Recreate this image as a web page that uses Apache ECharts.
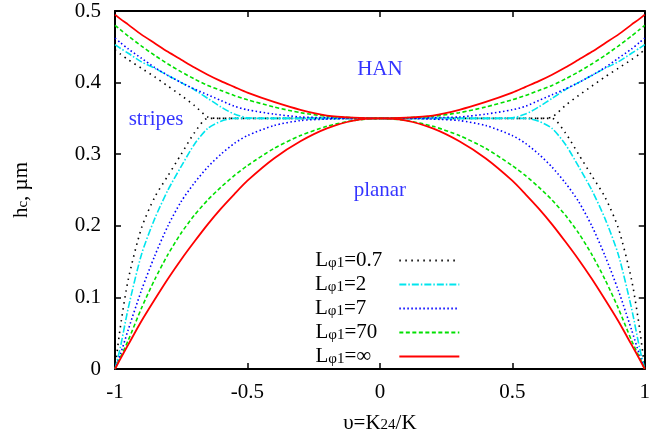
<!DOCTYPE html>
<html>
<head>
<meta charset="utf-8">
<script src="https://cdn.jsdelivr.net/npm/echarts@6/dist/echarts.min.js"></script>
<style>
  html, body { margin: 0; padding: 0; background: #fff; }
  #chart { width: 653px; height: 445px; }
</style>
</head>
<body>
<div id="chart"></div>
<script>
// абсцисса v = K24/K
var v = [-1, -0.98, -0.95, -0.9, -0.85, -0.8, -0.75, -0.7, -0.65, -0.6, -0.55, -0.5, -0.4, -0.3, -0.2, -0.1, 0,
         0.1, 0.2, 0.3, 0.4, 0.5, 0.55, 0.6, 0.65, 0.7, 0.75, 0.8, 0.85, 0.9, 0.95, 0.98, 1];

// L = 0.7
var blackUp = [0.446, 0.44, 0.432, 0.42, 0.408, 0.395, 0.382, 0.368, 0.352, 0.35, 0.35, 0.35, 0.35, 0.35, 0.35, 0.35, 0.35,
               0.35, 0.35, 0.35, 0.35, 0.35, 0.35, 0.35, 0.352, 0.368, 0.382, 0.395, 0.408, 0.42, 0.432, 0.44, 0.446];
var blackLow = [0, 0.058, 0.125, 0.197, 0.24, 0.27, 0.3, 0.33, 0.35, 0.35, 0.35, 0.35, 0.35, 0.35, 0.35, 0.35, 0.35,
                0.35, 0.35, 0.35, 0.35, 0.35, 0.35, 0.35, 0.35, 0.33, 0.3, 0.27, 0.24, 0.197, 0.125, 0.058, 0];
// L = 2
var cyanUp = [0.453, 0.448, 0.441, 0.429, 0.42, 0.41, 0.4, 0.39, 0.378, 0.366, 0.356, 0.351, 0.35, 0.35, 0.35, 0.35, 0.35,
              0.35, 0.35, 0.35, 0.35, 0.351, 0.356, 0.366, 0.378, 0.39, 0.4, 0.41, 0.42, 0.429, 0.441, 0.448, 0.453];
var cyanLow = [0, 0.03, 0.085, 0.16, 0.21, 0.25, 0.283, 0.314, 0.336, 0.346, 0.35, 0.35, 0.35, 0.35, 0.35, 0.35, 0.35,
               0.35, 0.35, 0.35, 0.35, 0.35, 0.35, 0.346, 0.336, 0.314, 0.283, 0.25, 0.21, 0.16, 0.085, 0.03, 0];
// L = 7
var blueUp = [0.462, 0.456, 0.447, 0.434, 0.421, 0.41, 0.4, 0.391, 0.383, 0.375, 0.367, 0.362, 0.356, 0.352, 0.351, 0.35, 0.35,
              0.35, 0.351, 0.352, 0.356, 0.362, 0.367, 0.375, 0.383, 0.391, 0.4, 0.41, 0.421, 0.434, 0.447, 0.456, 0.462];
var blueLow = [0, 0.02, 0.055, 0.11, 0.158, 0.2, 0.234, 0.26, 0.282, 0.3, 0.315, 0.326, 0.34, 0.347, 0.349, 0.35, 0.35,
               0.35, 0.349, 0.347, 0.34, 0.326, 0.315, 0.3, 0.282, 0.26, 0.234, 0.2, 0.158, 0.11, 0.055, 0.02, 0];
// L = 70
var greenUp = [0.48, 0.474, 0.465, 0.451, 0.438, 0.426, 0.415, 0.405, 0.396, 0.389, 0.382, 0.376, 0.366, 0.358, 0.353, 0.351, 0.35,
               0.351, 0.353, 0.358, 0.366, 0.376, 0.382, 0.389, 0.396, 0.405, 0.415, 0.426, 0.438, 0.451, 0.465, 0.474, 0.48];
var greenLow = [0, 0.016, 0.04, 0.085, 0.125, 0.16, 0.19, 0.215, 0.236, 0.254, 0.27, 0.284, 0.308, 0.326, 0.339, 0.347, 0.35,
                0.347, 0.339, 0.326, 0.308, 0.284, 0.27, 0.254, 0.236, 0.215, 0.19, 0.16, 0.125, 0.085, 0.04, 0.016, 0];
// L = inf
var redUp = [0.495, 0.489, 0.481, 0.467, 0.455, 0.443, 0.432, 0.421, 0.411, 0.402, 0.394, 0.386, 0.373, 0.362, 0.354, 0.351, 0.35,
             0.351, 0.354, 0.362, 0.373, 0.386, 0.394, 0.402, 0.411, 0.421, 0.432, 0.443, 0.455, 0.467, 0.481, 0.489, 0.495];
var redLow = [0, 0.014, 0.034, 0.067, 0.097, 0.126, 0.153, 0.178, 0.202, 0.224, 0.244, 0.263, 0.294, 0.318, 0.336, 0.347, 0.35,
              0.347, 0.336, 0.318, 0.294, 0.263, 0.244, 0.224, 0.202, 0.178, 0.153, 0.126, 0.097, 0.067, 0.034, 0.014, 0];

var names = ['0.7', '2', '7', '70', '∞'];
var regionLabels = [['HAN', 0, 0.419], ['stripes', -0.845, 0.348], ['planar', 0, 0.249]];

var font = 'Liberation Serif';

function pts(arr) {
    return v.map(function (x, i) { return [x, arr[i]] })
}

// кривые: верхняя и нижняя ветви с одним именем
var curves = [
    { name: names[0], up: blackUp, low: blackLow, color: '#000000', type: [1.5, 4.5], width: 1.6 },
    { name: names[1], up: cyanUp, low: cyanLow, color: '#00e5ee', type: [7, 2, 1.5, 2], width: 1.6 },
    { name: names[2], up: blueUp, low: blueLow, color: '#0000ff', type: [1.5, 2.5], width: 1.6 },
    { name: names[3], up: greenUp, low: greenLow, color: '#00e000', type: [4, 2.5], width: 1.6 },
    { name: names[4], up: redUp, low: redLow, color: '#ff0000', type: 'solid', width: 1.8 }
]

var series = []
curves.forEach(function (c) {
    [c.up, c.low].forEach(function (arr) {
        series.push({
            name: c.name,
            type: 'line',
            data: pts(arr),
            symbol: 'none',
            smooth: 0.25,
            color: c.color,
            lineStyle: { color: c.color, width: c.width, type: c.type },
            animation: false
        })
    })
})

series.push({
    type: 'scatter',
    symbolSize: 0,
    data: regionLabels.map(function (r) { return { value: [r[1], r[2]], name: r[0] } }),
    label: {
        show: true,
        position: 'inside',
        formatter: '{b}',
        color: '#0000ff',
        fontSize: 21,
        fontFamily: font
    },
    silent: true,
    animation: false
})

// ширина текста, чтобы добить подписи легенды до одной длины
var ctx = document.createElement('canvas').getContext('2d')
ctx.font = '21px "Liberation Serif"'
function padW(s) {
    return Math.max(1, Math.round(50 - ctx.measureText(s).width))
}

var axisText = { color: '#000', fontSize: 21, fontFamily: font }
var richSub = {
    a: { fontSize: 21, fontFamily: font, lineHeight: 20, color: '#000' },
    s: { fontSize: 15, fontFamily: font, lineHeight: 10, verticalAlign: 'bottom', color: '#000' }
}
var richLegend = Object.assign({}, richSub)
names.forEach(function (n, i) {
    richLegend['p' + i] = { width: padW('=' + n), lineHeight: 20 }
})

var myChart = echarts.init(document.getElementById('chart'))
var option = {
    backgroundColor: '#fff',
    grid: { left: 115, right: 3, top: 11, bottom: 76 },
    legend: {
        data: names,
        orient: 'vertical',
        left: 310,
        top: 245,
        align: 'right',
        itemWidth: 60,
        itemHeight: 14,
        itemGap: 3,
        selectedMode: false,
        itemStyle: { opacity: 0 },
        formatter: function (n) {
            return '{a|L}{s|φ1}{a|=' + n + '}{p' + names.indexOf(n) + '|}'
        },
        textStyle: {
            color: '#000',
            fontFamily: font,
            rich: richLegend
        }
    },
    xAxis: [{
        type: 'value',
        min: -1, max: 1, interval: 0.5,
        name: '{a|υ=K}{s|24}{a|/K}',
        nameLocation: 'middle',
        nameGap: 44,
        nameTextStyle: { rich: richSub },
        axisLine: { onZero: false, lineStyle: { color: '#000', width: 2 } },
        axisTick: { inside: true, length: 6, lineStyle: { color: '#000', width: 1.5 } },
        axisLabel: Object.assign({ margin: 13 }, axisText),
        splitLine: { show: false }
    }, {
        type: 'value',
        position: 'top',
        min: -1, max: 1, interval: 0.5,
        axisLine: { onZero: false, lineStyle: { color: '#000', width: 2 } },
        axisTick: { inside: true, length: 6, lineStyle: { color: '#000', width: 1.5 } },
        axisLabel: { show: false },
        splitLine: { show: false }
    }],
    yAxis: [{
        type: 'value',
        min: 0, max: 0.5, interval: 0.1,
        name: '{a|h}{s|c}{a|, µm}',
        nameLocation: 'middle',
        nameRotate: 90,
        nameGap: 84,
        nameTextStyle: { rich: richSub },
        axisLine: { onZero: false, lineStyle: { color: '#000', width: 2 } },
        axisTick: { inside: true, length: 6, lineStyle: { color: '#000', width: 1.5 } },
        axisLabel: Object.assign({ margin: 14 }, axisText),
        splitLine: { show: false }
    }, {
        type: 'value',
        position: 'right',
        min: 0, max: 0.5, interval: 0.1,
        axisLine: { onZero: false, lineStyle: { color: '#000', width: 2 } },
        axisTick: { inside: true, length: 6, lineStyle: { color: '#000', width: 1.5 } },
        axisLabel: { show: false },
        splitLine: { show: false }
    }],
    series: series
}
myChart.setOption(option)
</script>
</body>
</html>
